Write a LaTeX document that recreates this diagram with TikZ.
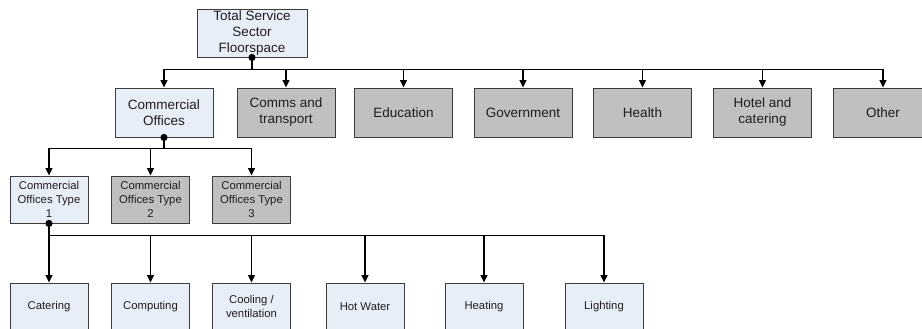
\documentclass[tikz,border=0pt]{standalone}
\usepackage{fontspec}
\setmainfont{Liberation Sans}
\usetikzlibrary{arrows.meta}
\definecolor{paleblue}{RGB}{232,238,248}
\definecolor{midgray}{RGB}{192,192,192}
\definecolor{edgegray}{RGB}{60,60,60}
\definecolor{inkgray}{RGB}{30,30,30}
\tikzset{
  basebox/.style={rectangle, draw=edgegray, line width=0.9pt, inner sep=0pt,
    align=center, text=inkgray},
  bigbox/.style={basebox, font=\fontsize{13.5}{16}\selectfont},
  smallbox/.style={basebox, font=\fontsize{11.3}{14}\selectfont,
    minimum width=78, minimum height=47},
  sector/.style={bigbox, minimum width=98, minimum height=49},
  bluefill/.style={fill=paleblue},
  grayfill/.style={fill=midgray},
  conn/.style={draw=black, line width=1.2pt, -{Triangle[length=7.5pt,width=7pt]}},
  junction/.style={fill=black}
}
\begin{document}
\begin{tikzpicture}[x=1pt,y=-1pt]
\useasboundingbox (0,0) rectangle (922,329);
\clip (0,0) rectangle (922,329);
\fill[white] (0,0) rectangle (922,329);

% top level
\node[bigbox, bluefill, minimum width=110, minimum height=48] (total) at (252,33)
  {Total Service\\Sector\\Floorspace};

% sectors
\node[sector, bluefill] (co)     at (164,112.5) {Commercial\\Offices};
\node[sector, grayfill] (comms)  at (286,112.5) {Comms and\\transport};
\node[sector, grayfill] (edu)    at (403.5,112.5) {Education};
\node[sector, grayfill] (gov)    at (523,112.5) {Government};
\node[sector, grayfill] (health) at (642.5,112.5) {Health};
\node[sector, grayfill] (hotel)  at (762.5,112.5) {Hotel and\\catering};
\node[sector, grayfill, minimum width=100] (other) at (883,112.5) {Other};

% office types
\node[smallbox, bluefill] (t1) at (49,199.5)    {Commercial\\Offices Type\\1};
\node[smallbox, grayfill] (t2) at (150.5,199.5) {Commercial\\Offices Type\\2};
\node[smallbox, grayfill] (t3) at (251.5,199.5) {Commercial\\Offices Type\\3};

% end uses
\node[smallbox, bluefill] (cat)  at (49,306.5)    {Catering};
\node[smallbox, bluefill] (comp) at (150.5,306.5) {Computing};
\node[smallbox, bluefill] (cool) at (251.5,306.5) {Cooling /\\ventilation};
\node[smallbox, bluefill] (hw)   at (365,306.5)   {Hot Water};
\node[smallbox, bluefill] (heat) at (484,306.5)   {Heating};
\node[smallbox, bluefill] (lit)  at (604,306.5)   {Lighting};

% bus connectors
\foreach \c in {co,comms,edu,gov,health,hotel,other}
  \draw[conn] (total.south) -- ++(0,12) -| (\c.north);
\foreach \c in {t1,t2,t3}
  \draw[conn] (co.south) -- ++(0,11) -| (\c.north);
\foreach \c in {cat,comp,cool,hw,heat,lit}
  \draw[conn] (t1.south) -- ++(0,12) -| (\c.north);

% junction dots
\fill[junction] (total.south) circle (3.6);
\fill[junction] (co.south) circle (3.6);
\fill[junction] (t1.south) circle (3.6);
\end{tikzpicture}
\end{document}
